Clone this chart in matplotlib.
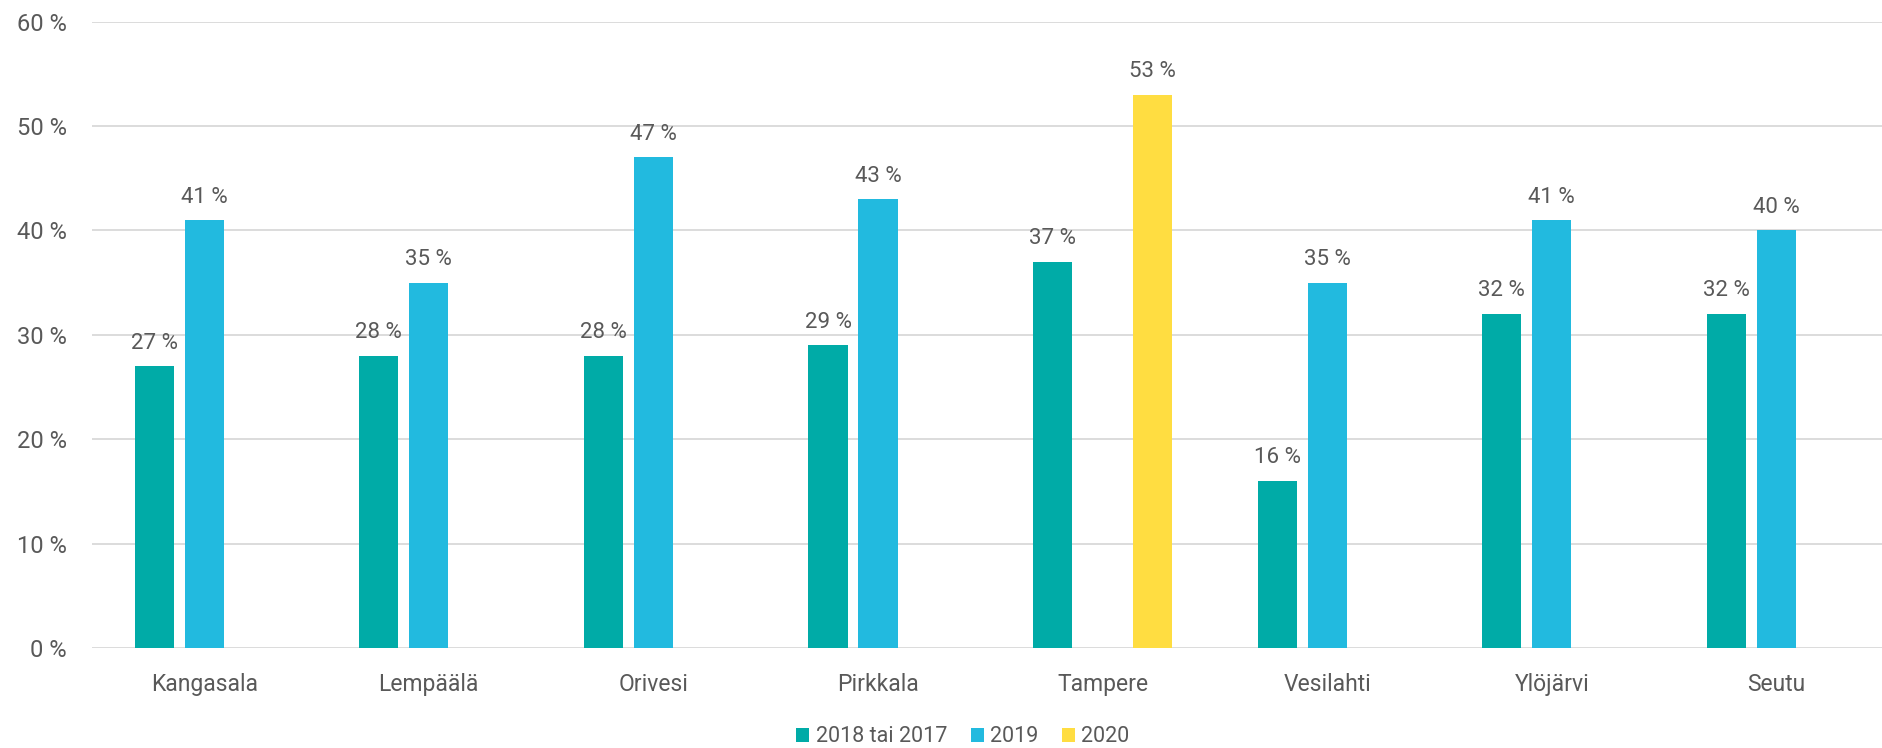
import numpy as np
import matplotlib
matplotlib.use("Agg")
import matplotlib.pyplot as plt

categories = ["Kangasala", "Lempäälä", "Orivesi", "Pirkkala", "Tampere", "Vesilahti", "Ylöjärvi", "Seutu"]
s2018 = [27, 28, 28, 29, 37, 16, 32, 32]
s2019 = [41, 35, 47, 43, np.nan, 35, 41, 40]
s2020 = [np.nan, np.nan, np.nan, np.nan, 53, np.nan, np.nan, np.nan]
series_names = ["2018 tai 2017", "2019", "2020"]
colors = ["#00ABA7", "#22BADF", "#FFDD41"]
yticks = [0, 10, 20, 30, 40, 50, 60]

plt.rcParams['font.family'] = ['Roboto', 'DejaVu Sans']
text_color = "#595959"

W, H = 1883, 748
fig = plt.figure(figsize=(W / 100, H / 100), dpi=100)
left_px, right_px = 91.9, 1883
ax = fig.add_axes([left_px / W, 0.1337, (right_px - left_px) / W, 0.8373])

x = np.arange(len(categories))
bw = 0.174
step = 0.2226
handles = []
for i, (vals, name, c) in enumerate(zip([s2018, s2019, s2020], series_names, colors)):
    pos = x + (i - 1) * step
    v = np.array(vals, dtype=float)
    h = ax.bar(pos, np.nan_to_num(v), width=bw, color=c, label=name, zorder=3)
    handles.append(h)
    for p, val in zip(pos, v):
        if not np.isnan(val):
            ax.annotate(f"{int(val)} %", (p, val), xytext=(0, 9), textcoords="offset points",
                        ha="center", va="bottom", fontsize=16, color=text_color)

spacing_px = 224.6
ax.set_xlim(-0.5, -0.5 + (right_px - left_px) / spacing_px)
ax.set_ylim(0, 60)
ax.set_yticks(yticks)
ax.set_yticklabels([f"{t} %" for t in yticks], fontsize=17, color=text_color)
ax.set_xticks(x)
ax.set_xticklabels(categories, fontsize=16.5, color=text_color)
ax.tick_params(axis='y', length=0, pad=18)
ax.tick_params(axis='x', length=0, pad=18)
ax.grid(axis='y', color="#D9D9D9", linewidth=1.3, zorder=0)
ax.set_axisbelow(True)
for s in ax.spines.values():
    s.set_visible(False)

leg = fig.legend(handles=handles, labels=series_names, loc="center",
                 bbox_to_anchor=(963 / W, 1 - 737 / H), ncol=3, frameon=False,
                 fontsize=15.5, handlelength=0.6, handleheight=0.65, handletextpad=0.3,
                 columnspacing=1.1)
for t in leg.get_texts():
    t.set_color(text_color)

fig.savefig("out.png", dpi=100)
